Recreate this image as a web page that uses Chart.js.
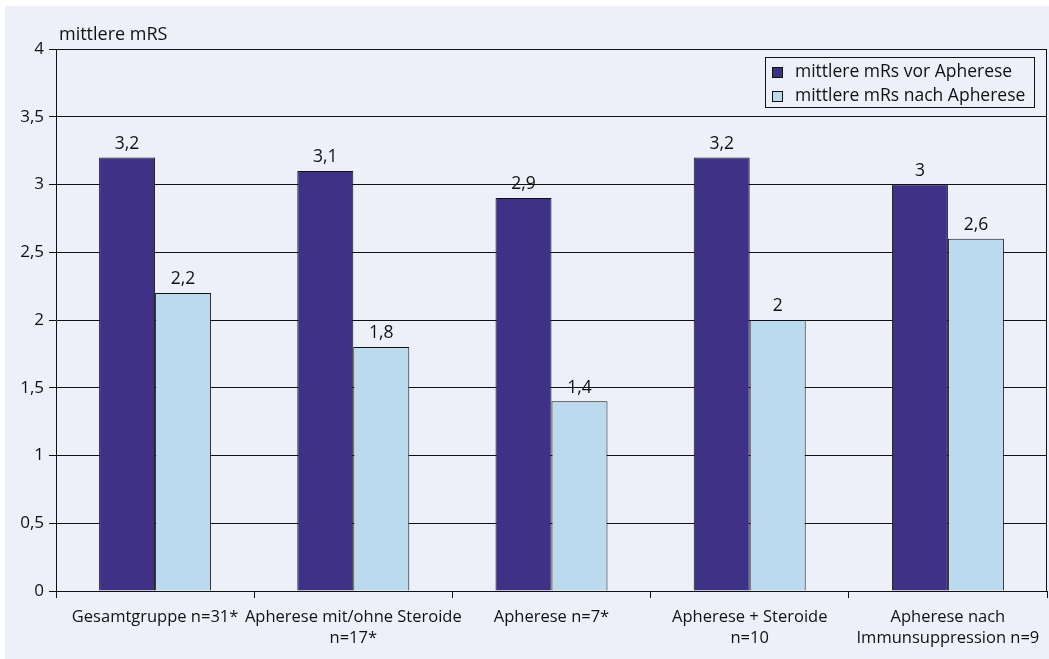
<!DOCTYPE html>
<html>
<head>
<meta charset="utf-8">
<script src="https://cdn.jsdelivr.net/npm/chart.js@4.4.1/dist/chart.umd.min.js"></script>
<style>
  html, body { margin: 0; padding: 0; background: #ffffff; }
  #box {
    position: absolute; left: 5px; top: 6px; width: 1044px; height: 653px;
    background: #edf0f8;
  }
  #legend {
    position: absolute; left: 760px; top: 51px; width: 270px; height: 51px;
    border: 1px solid #111; box-sizing: border-box;
    font-family: "Open Sans", sans-serif; font-size: 17.5px; color: #111;
    padding: 0 0 0 6px;
  }
  #legend .row { height: 24px; line-height: 24px; white-space: nowrap; }
  #legend .sw {
    display: inline-block; width: 11px; height: 11px; border: 1px solid #111;
    box-sizing: border-box; margin-right: 12px; vertical-align: -1px;
  }
</style>
</head>
<body>
<div id="box">
  <canvas id="chart"></canvas>
  <div id="legend"></div>
</div>
<script>
const categories = [
    'Gesamtgruppe n=31*',
    ['Apherese mit/ohne Steroide', 'n=17*'],
    'Apherese n=7*',
    ['Apherese + Steroide', 'n=10'],
    ['Apherese nach', 'Immunsuppression n=9']
];
const seriesNames = ['mittlere mRs vor Apherese', 'mittlere mRs nach Apherese'];
const vorValues = [3.2, 3.1, 2.9, 3.2, 3];
const nachValues = [2.2, 1.8, 1.4, 2, 2.6];
const yAxisLabel = 'mittlere mRS';

const darkColor = '#3e3186';
const lightColor = '#bcdaed';
const fontFamily = '"Open Sans", sans-serif';

function deNumber(v) {
    return String(v).replace('.', ',');
}

// Legende als HTML
const legendEl = document.getElementById('legend');
[darkColor, lightColor].forEach((c, i) => {
    const row = document.createElement('div');
    row.className = 'row';
    row.innerHTML = `<span class="sw" style="background:${c}"></span>${seriesNames[i]}`;
    legendEl.appendChild(row);
});

// Werte über den Balken, Achsentitel, rechter Rahmen
const extrasPlugin = {
    id: 'extras',
    afterDatasetsDraw(chart) {
        const ctx = chart.ctx;
        const area = chart.chartArea;
        ctx.save();
        ctx.font = '17.5px ' + fontFamily;
        ctx.fillStyle = '#111';
        ctx.textAlign = 'center';
        ctx.textBaseline = 'bottom';
        chart.data.datasets.forEach((ds, di) => {
            chart.getDatasetMeta(di).data.forEach((bar, i) => {
                ctx.fillText(deNumber(ds.data[i]), bar.x, bar.y - 5);
            });
        });
        ctx.font = '18px ' + fontFamily;
        ctx.textAlign = 'left';
        ctx.fillText(yAxisLabel, area.left + 3, area.top - 5);
        ctx.strokeStyle = '#111';
        ctx.lineWidth = 1;
        ctx.beginPath();
        ctx.moveTo(Math.round(area.right) - 0.5, area.top);
        ctx.lineTo(Math.round(area.right) - 0.5, area.bottom);
        ctx.stroke();
        ctx.restore();
    }
};

const ctx = document.getElementById('chart').getContext('2d');
const chart = new Chart(ctx, {
    type: 'bar',
    data: {
        labels: categories,
        datasets: [
            {
                label: seriesNames[0],
                data: vorValues,
                backgroundColor: darkColor,
                borderColor: '#111',
                borderWidth: 1,
                borderSkipped: 'bottom'
            },
            {
                label: seriesNames[1],
                data: nachValues,
                backgroundColor: lightColor,
                borderColor: '#111',
                borderWidth: 1,
                borderSkipped: 'bottom'
            }
        ]
    },
    options: {
        responsive: true,
        maintainAspectRatio: false,
        animation: false,
        layout: {
            padding: { top: 43, right: 2, left: 0, bottom: 0 }
        },
        datasets: {
            bar: {
                categoryPercentage: 0.565,
                barPercentage: 1
            }
        },
        plugins: {
            legend: { display: false },
            tooltip: { enabled: false }
        },
        scales: {
            x: {
                grid: {
                    drawOnChartArea: false,
                    color: '#111',
                    tickLength: 7
                },
                border: { color: '#111' },
                ticks: {
                    color: '#111',
                    font: { family: fontFamily, size: 16.5, lineHeight: 1.27 },
                    padding: 9,
                    maxRotation: 0,
                    autoSkip: false
                },
                afterFit: s => { s.height = 68; }
            },
            y: {
                min: 0,
                max: 4,
                grid: {
                    color: '#111',
                    tickLength: 7
                },
                border: { color: '#111' },
                ticks: {
                    stepSize: 0.5,
                    color: '#111',
                    font: { family: fontFamily, size: 17 },
                    padding: 5,
                    callback: v => deNumber(v)
                },
                afterFit: s => { s.width = 51; }
            }
        }
    },
    plugins: [extrasPlugin]
});
</script>
</body>
</html>
